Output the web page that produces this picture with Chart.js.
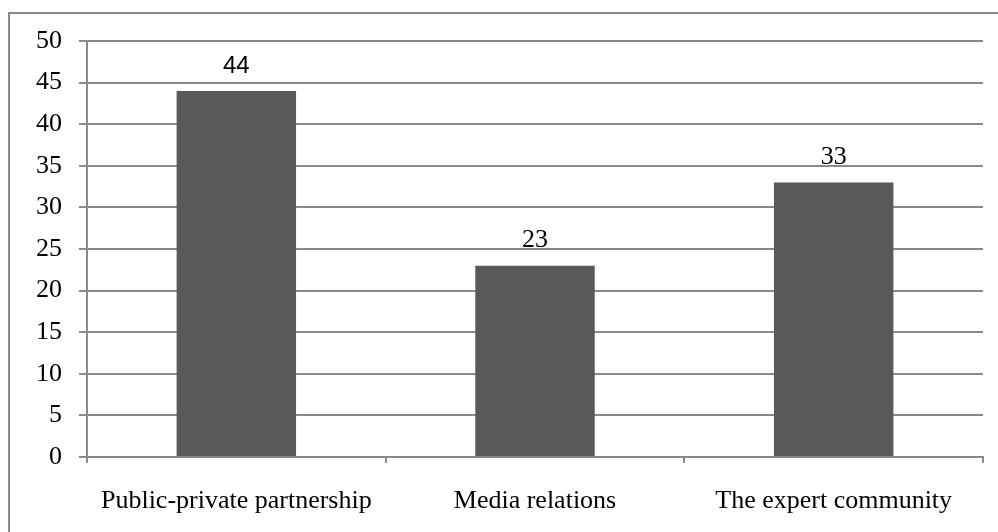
<!DOCTYPE html>
<html>
<head>
<meta charset="utf-8">
<script src="https://cdn.jsdelivr.net/npm/chart.js@4/dist/chart.umd.min.js"></script>
<style>
  html, body { margin: 0; padding: 0; background: #fff; }
  #wrap { position: relative; width: 998px; height: 532px; }
  #frame { position: absolute; left: 8px; top: 12px; right: 0; bottom: 0;
           border-top: 2px solid #8a8a8a; border-left: 2px solid #8a8a8a; }
  canvas { position: absolute; left: 0; top: 0; }
</style>
</head>
<body>
<div id="wrap">
  <div id="frame"></div>
  <canvas id="chart" width="998" height="532"></canvas>
</div>
<script>
const categories = ['Public-private partnership', 'Media relations', 'The expert community'];
const values = [44, 23, 33];
const valueLabels = ['44', '23', '33'];
const labelFonts = ['24px "Liberation Sans", Arial, sans-serif',
                    '26px "Liberation Serif", "Times New Roman", serif',
                    '26px "Liberation Serif", "Times New Roman", serif'];
const yTicks = [0, 5, 10, 15, 20, 25, 30, 35, 40, 45, 50];

const gridColor = '#8a8a8a';
const serif = '"Liberation Serif", "Times New Roman", serif';

// value labels above each bar
const valueLabelPlugin = {
  id: 'valueLabels',
  afterDatasetsDraw(chart) {
    const ctx = chart.ctx;
    const meta = chart.getDatasetMeta(0);
    ctx.save();
    ctx.fillStyle = '#000';
    ctx.textAlign = 'center';
    ctx.textBaseline = 'middle';
    meta.data.forEach((bar, i) => {
      ctx.font = labelFonts[i];
      ctx.fillText(valueLabels[i], bar.x, bar.y - 25);
    });
    ctx.restore();
  }
};

new Chart(document.getElementById('chart'), {
  type: 'bar',
  data: {
    labels: categories,
    datasets: [{
      data: values,
      backgroundColor: '#595959',
      borderWidth: 0,
      categoryPercentage: 1.0,
      barPercentage: 0.4
    }]
  },
  options: {
    responsive: false,
    animation: false,
    events: [],
    layout: { padding: { top: 41, right: 15, left: 0, bottom: 0 } },
    plugins: { legend: { display: false }, tooltip: { enabled: false } },
    scales: {
      y: {
        min: 0,
        max: 50,
        afterFit(scale) { scale.width = 87; },
        afterBuildTicks(scale) { scale.ticks = yTicks.map(v => ({ value: v })); },
        border: { display: true, color: gridColor, width: 2 },
        grid: { color: gridColor, lineWidth: 2, tickLength: 8, drawTicks: true },
        ticks: { color: '#000', padding: 17, font: { family: serif, size: 26 } }
      },
      x: {
        afterFit(scale) { scale.height = 75; },
        border: { display: true, color: gridColor, width: 2 },
        grid: { offset: true, drawOnChartArea: false, drawTicks: true, tickLength: 6,
                color: gridColor, lineWidth: 2 },
        ticks: { color: '#000', padding: 23, maxRotation: 0, font: { family: serif, size: 26 } }
      }
    }
  },
  plugins: [valueLabelPlugin]
});
</script>
</body>
</html>
